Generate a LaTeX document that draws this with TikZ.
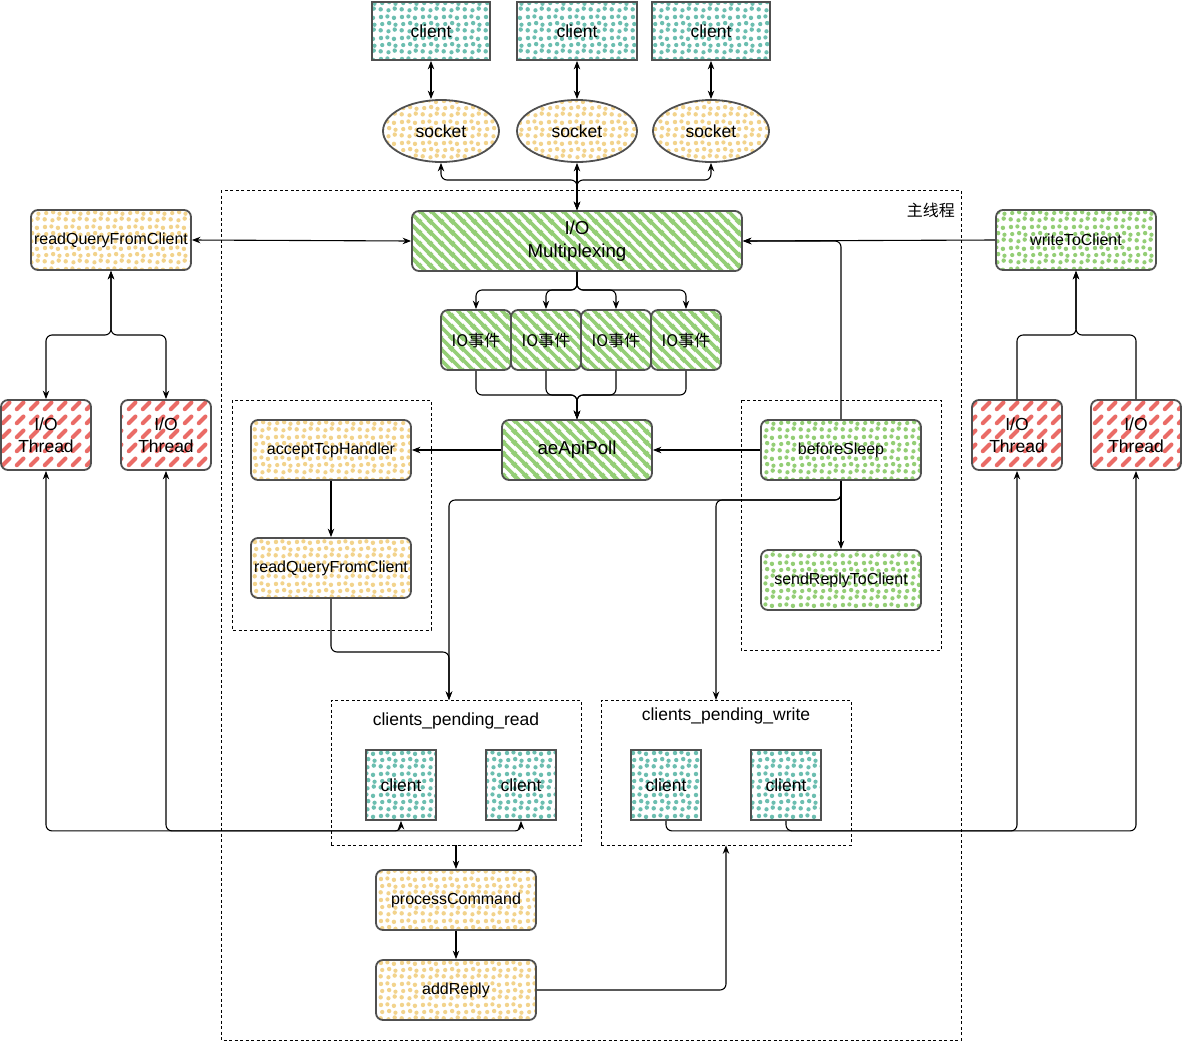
\documentclass[tikz,border=0pt]{standalone}
\usepackage{fontspec}
\setmainfont{Liberation Sans}
\newfontfamily\cjk{Noto Sans CJK SC}
\usetikzlibrary{patterns,arrows.meta,shapes.geometric}

\definecolor{cteal}{RGB}{108,190,176}
\definecolor{cyel}{RGB}{242,211,140}
\definecolor{cgreen}{RGB}{148,206,118}
\definecolor{cred}{RGB}{234,107,102}
\definecolor{cborder}{RGB}{80,80,80}

\pgfdeclarepatternformonly{dotsfill}{\pgfqpoint{0pt}{0pt}}{\pgfqpoint{21pt}{21pt}}{\pgfqpoint{21pt}{21pt}}{%
  \pgfpathcircle{\pgfqpoint{2.8pt}{3.8pt}}{2.3pt}%
  \pgfpathcircle{\pgfqpoint{10.9pt}{2.8pt}}{2.2pt}%
  \pgfpathcircle{\pgfqpoint{17.4pt}{4.6pt}}{2.3pt}%
  \pgfpathcircle{\pgfqpoint{4.4pt}{10.3pt}}{2.2pt}%
  \pgfpathcircle{\pgfqpoint{11.6pt}{11.3pt}}{2.3pt}%
  \pgfpathcircle{\pgfqpoint{18.2pt}{9.6pt}}{2.2pt}%
  \pgfpathcircle{\pgfqpoint{3.1pt}{17.6pt}}{2.3pt}%
  \pgfpathcircle{\pgfqpoint{9.8pt}{18.2pt}}{2.2pt}%
  \pgfpathcircle{\pgfqpoint{16.6pt}{16.7pt}}{2.3pt}%
  \pgfusepath{fill}}

\pgfdeclarepatternformonly{ghatch}{\pgfqpoint{0pt}{0pt}}{\pgfqpoint{10.5pt}{10.5pt}}{\pgfqpoint{10.5pt}{10.5pt}}{%
  \pgfsetlinewidth{3.8pt}%
  \pgfpathmoveto{\pgfqpoint{-2pt}{12.5pt}}\pgfpathlineto{\pgfqpoint{12.5pt}{-2pt}}%
  \pgfpathmoveto{\pgfqpoint{-3.5pt}{3.5pt}}\pgfpathlineto{\pgfqpoint{3.5pt}{-3.5pt}}%
  \pgfpathmoveto{\pgfqpoint{7pt}{14pt}}\pgfpathlineto{\pgfqpoint{14pt}{7pt}}%
  \pgfusepath{stroke}}

\pgfdeclarepatternformonly{rdashp}{\pgfqpoint{0pt}{0pt}}{\pgfqpoint{14pt}{14pt}}{\pgfqpoint{14pt}{14pt}}{%
  \pgfsetlinewidth{4.4pt}\pgfsetroundcap
  \pgfpathmoveto{\pgfqpoint{3pt}{3pt}}\pgfpathlineto{\pgfqpoint{10pt}{10pt}}%
  \pgfusepath{stroke}}

\begin{document}
\begin{tikzpicture}[x=1pt,y=-1pt,
  >={Stealth[length=8.5pt,width=6.5pt]},
  conn/.style={draw=black,line width=1.1pt,rounded corners=6pt},
  fbox/.style={draw=cborder,line width=1.8pt,rounded corners=7pt,minimum width=160pt,minimum height=60pt,inner sep=0pt,font=\fontsize{16}{19}\selectfont},
  cbox/.style={draw=cborder,line width=1.8pt,minimum width=118pt,minimum height=58pt,inner sep=0pt,font=\fontsize{17.5}{21}\selectfont},
  sqbox/.style={draw=cborder,line width=1.8pt,minimum width=70pt,minimum height=70pt,inner sep=0pt,font=\fontsize{17.5}{21}\selectfont},
  sock/.style={ellipse,draw=cborder,line width=1.8pt,minimum width=116pt,minimum height=62pt,inner sep=0pt,font=\fontsize{17.5}{21}\selectfont},
  thr/.style={draw=cborder,line width=1.8pt,rounded corners=7pt,minimum width=90pt,minimum height=70pt,inner sep=0pt,align=center,font=\fontsize{17.5}{22}\selectfont},
  ydot/.style={pattern=dotsfill,pattern color=cyel},
  gdot/.style={pattern=dotsfill,pattern color=cgreen},
  tdot/.style={pattern=dotsfill,pattern color=cteal},
  ghfill/.style={pattern=ghatch,pattern color=cgreen},
  rdash/.style={pattern=rdashp,pattern color=cred},
  grp/.style={draw=black,line width=0.7pt,dash pattern=on 3pt off 2.5pt},
  lbl/.style={inner sep=0pt,font=\fontsize{17.5}{21}\selectfont},
]
\fill[white] (0,0) rectangle (1182,1042);
\useasboundingbox (0,0) rectangle (1182,1042);

% groups
\draw[grp] (221,190) rectangle (961,1040);
\node[anchor=east,inner sep=0pt,font={\cjk\fontsize{16}{19}\selectfont}] (lblmain) at (955,210) {主线程};
\draw[grp] (232,400) rectangle (431,630);
\draw[grp] (741,400) rectangle (941,650);
\node[grp,minimum width=250pt,minimum height=145pt,inner sep=0pt] (prbox) at (456,772.5) {};
\node[grp,minimum width=250pt,minimum height=145pt,inner sep=0pt] (pwbox) at (726,772.5) {};
\node[lbl] (prlbl) at (456,721) {clients\_pending\_read};
\node[lbl] (pwlbl) at (726,716) {clients\_pending\_write};

% top clients and sockets
\node[cbox,tdot] (c1) at (431,31) {client};
\node[cbox,tdot,minimum width=120pt] (c2) at (577,31) {client};
\node[cbox,tdot] (c3) at (711,31) {client};
\node[sock,ydot] (s1) at (441,131) {socket};
\node[sock,ydot,minimum width=120pt] (s2) at (577,131) {socket};
\node[sock,ydot] (s3) at (711,131) {socket};

% main row
\node[fbox,ghfill,minimum width=330pt,align=center,font=\fontsize{18.7}{23}\selectfont] (mux) at (577,241) {I/O\\Multiplexing};
\node[fbox,ydot] (rq1) at (111,240) {readQueryFromClient};
\node[fbox,gdot] (wtc) at (1076,240) {writeToClient};

\foreach \i/\x in {1/476,2/546,3/616,4/686}
  \node[fbox,ghfill,minimum width=70pt,font={\cjk\fontsize{16}{19}\selectfont}] (io\i) at (\x,340) {IO事件};

\node[fbox,ghfill,minimum width=150pt,font=\fontsize{18.7}{23}\selectfont] (poll) at (577,450) {aeApiPoll};
\node[fbox,gdot] (bs) at (841,450) {beforeSleep};
\node[fbox,ydot] (acc) at (331,450) {acceptTcpHandler};
\node[fbox,ydot] (rq2) at (331,568) {readQueryFromClient};
\node[fbox,gdot] (srtc) at (841,580) {sendReplyToClient};

% threads
\node[thr,rdash] (t1) at (46,435) {I/O\\Thread};
\node[thr,rdash] (t2) at (166,435) {I/O\\Thread};
\node[thr,rdash] (t3) at (1017,435) {I/O\\Thread};
\node[thr,rdash] (t4) at (1136,435) {I/O\\Thread};

% pending clients
\node[sqbox,tdot] (pc1) at (401,785) {client};
\node[sqbox,tdot] (pc2) at (521,785) {client};
\node[sqbox,tdot] (pw1) at (666,785) {client};
\node[sqbox,tdot] (pw2) at (786,785) {client};

% bottom
\node[fbox,ydot] (proc) at (456,900) {processCommand};
\node[fbox,ydot] (add) at (456,990) {addReply};

% coordinates
\coordinate (jtop) at (577,180);
\coordinate (jio) at (577,290);
\coordinate (jpoll) at (577,395);
\coordinate (jbs) at (841,500);
\coordinate (prin) at (449,700);
\coordinate (pwin) at (716,700);
\coordinate (jrq2) at (449,652);
\coordinate (jl) at (111,335);
\coordinate (jr) at (1076,335);

% connectors
\draw[conn,<->] (c1.south) -- (c1.south |- s1.north);
\draw[conn,<->] (c2.south) -- (s2.north);
\draw[conn,<->] (c3.south) -- (s3.north);
\draw[conn,<->] (s1.south) |- (jtop) -- (mux.north);
\draw[conn,<->] (s2.south) -- (mux.north);
\draw[conn,<->] (s3.south) |- (jtop) -- (mux.north);

\draw[conn,<->] (rq1.east) -- (mux.west);
\draw[conn,->] (wtc.west) -- (mux.east);
\draw[conn,->] (bs.north) |- (mux.east);

\foreach \i in {1,...,4} {
  \draw[conn,->] (mux.south) -- (jio) -| (io\i.north);
  \draw[conn,->] (io\i.south) |- (jpoll) -- (poll.north);
}

\draw[conn,->] (bs.west) -- (poll.east);
\draw[conn,->] (poll.west) -- (acc.east);
\draw[conn,->] (acc.south) -- (rq2.north);
\draw[conn,->] (bs.south) -- (srtc.north);
\draw[conn,->] (bs.south) -- (jbs) -| (prin);
\draw[conn,->] (bs.south) -- (jbs) -| (pwin);
\draw[conn,->] (rq2.south) |- (jrq2) -- (prin);

\draw[conn,<->] (t1.north) |- (jl) -- (rq1.south);
\draw[conn,<->] (t2.north) |- (jl) -- (rq1.south);
\draw[conn,->] (t3.north) |- (jr) -- (wtc.south);
\draw[conn,->] (t4.north) |- (jr) -- (wtc.south);

\draw[conn,<->] (pc1.south) -- ++(0,10) -| (t1.south);
\draw[conn,<->] (pc2.south) -- ++(0,10) -| (t2.south);
\draw[conn,->] (pw1.south) -- ++(0,10) -| (t3.south);
\draw[conn,->] (pw2.south) -- ++(0,10) -| (t4.south);

\draw[conn,->] (prbox.south) -- (proc.north);
\draw[conn,->] (proc.south) -- (add.north);
\draw[conn,->] (add.east) -| (pwbox.south);
\end{tikzpicture}
\end{document}
